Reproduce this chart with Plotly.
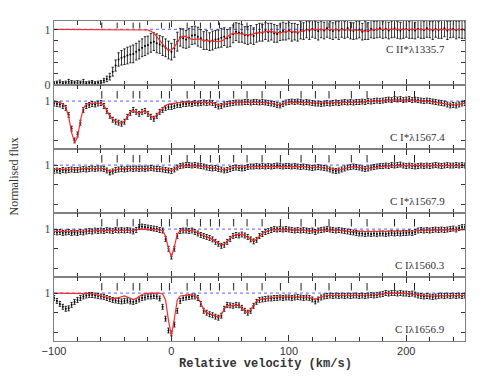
import plotly.graph_objects as go
from plotly.subplots import make_subplots

# velocity grid of the spectra (km/s), one value per 2.5 km/s pixel
v_start, v_step, n_pix = -100.0, 2.5, 141
velocity = [v_start + v_step * i for i in range(n_pix)]

line_labels = ["C II*λ1335.7", "C I*λ1567.4", "C I*λ1567.9", "C Iλ1560.3", "C Iλ1656.9"]

# velocity components marked above each spectrum
component_v = [-59.3, -46.2, -32.6, -27.0, -8.5, -1.7, 13.4, 24.7, 33.2, 40.9, 53.0,
               64.4, 77.2, 92.8, 110.4, 122.6, 134.2, 153.2, 166.6, 190.0, 207.0]

# ---- C II* 1335.7 ----
flux_c2s_1335 = [
    0.03, 0.04, 0.05, 0.03, 0.04, 0.06, 0.05, 0.04,
    0.05, 0.04, 0.06, 0.03, 0.04, 0.05, 0.03, 0.04,
    0.05, 0.08, 0.11, 0.15, 0.24, 0.35, 0.46, 0.49,
    0.51, 0.53, 0.55, 0.56, 0.60, 0.63, 0.67, 0.70,
    0.72, 0.76, 0.78, 0.75, 0.73, 0.70, 0.67, 0.63,
    0.60, 0.66, 0.78, 0.86, 0.84, 0.82, 0.85, 0.89,
    0.90, 0.87, 0.84, 0.80, 0.81, 0.78, 0.80, 0.82,
    0.83, 0.85, 0.87, 0.84, 0.86, 0.92, 0.96, 0.94,
    0.93, 0.90, 0.89, 0.91, 0.88, 0.93, 0.95, 0.94,
    0.97, 0.95, 0.96, 0.93, 0.92, 0.95, 0.97, 0.96,
    0.98, 0.95, 0.96, 0.94, 0.99, 0.97, 1.00, 0.98,
    1.01, 0.99, 0.97, 1.00, 0.98, 1.02, 0.99, 0.97,
    1.00, 0.98, 1.01, 0.99, 1.02, 0.98, 0.97, 0.99,
    1.00, 0.96, 0.98, 0.97, 1.01, 0.99, 1.00, 1.02,
    0.99, 1.01, 0.98, 1.00, 1.02, 0.99, 0.98, 1.00,
    1.01, 0.99, 1.00, 0.98, 1.01, 1.00, 0.99, 1.02,
    1.00, 0.98, 1.01, 0.99, 1.00, 1.02, 0.98, 1.00,
    1.01, 0.99, 1.00, 1.00, 0.99]
err_c2s_1335 = [
    0.03, 0.03, 0.04, 0.03, 0.03, 0.04, 0.03, 0.03,
    0.03, 0.03, 0.04, 0.03, 0.03, 0.03, 0.03, 0.03,
    0.03, 0.04, 0.05, 0.06, 0.08, 0.10, 0.12, 0.13,
    0.14, 0.15, 0.15, 0.16, 0.15, 0.16, 0.16, 0.17,
    0.16, 0.17, 0.16, 0.17, 0.16, 0.17, 0.16, 0.16,
    0.15, 0.16, 0.17, 0.16, 0.17, 0.16, 0.17, 0.16,
    0.16, 0.17, 0.16, 0.16, 0.17, 0.16, 0.17, 0.16,
    0.16, 0.17, 0.16, 0.16, 0.17, 0.16, 0.16, 0.17,
    0.16, 0.15, 0.16, 0.16, 0.15, 0.16, 0.16, 0.15,
    0.15, 0.16, 0.15, 0.16, 0.15, 0.15, 0.16, 0.15,
    0.15, 0.16, 0.15, 0.15, 0.16, 0.15, 0.15, 0.16,
    0.15, 0.15, 0.16, 0.15, 0.15, 0.16, 0.15, 0.15,
    0.15, 0.16, 0.15, 0.15, 0.16, 0.15, 0.15, 0.16,
    0.15, 0.15, 0.16, 0.15, 0.16, 0.15, 0.15, 0.16,
    0.15, 0.16, 0.15, 0.15, 0.16, 0.15, 0.15, 0.16,
    0.15, 0.15, 0.16, 0.15, 0.15, 0.16, 0.15, 0.16,
    0.15, 0.16, 0.15, 0.15, 0.16, 0.15, 0.16, 0.15,
    0.15, 0.16, 0.15, 0.16, 0.15]
model_c2s_1335 = [
    1.00, 1.00, 1.00, 1.00, 1.00, 1.00, 1.00, 1.00,
    1.00, 1.00, 1.00, 1.00, 1.00, 1.00, 1.00, 1.00,
    1.00, 1.00, 1.00, 1.00, 1.00, 1.00, 1.00, 1.00,
    1.00, 1.00, 1.00, 1.00, 1.00, 1.00, 1.00, 1.00,
    0.99, 0.97, 0.93, 0.87, 0.80, 0.73, 0.67, 0.63,
    0.63, 0.68, 0.77, 0.85, 0.88, 0.87, 0.84, 0.82,
    0.82, 0.83, 0.82, 0.80, 0.80, 0.80, 0.79, 0.78,
    0.78, 0.79, 0.82, 0.87, 0.91, 0.93, 0.93, 0.92,
    0.92, 0.91, 0.90, 0.90, 0.92, 0.94, 0.94, 0.95,
    0.96, 0.97, 0.96, 0.95, 0.94, 0.94, 0.95, 0.96,
    0.97, 0.96, 0.95, 0.95, 0.96, 0.98, 0.99, 1.00,
    1.00, 0.995, 0.99, 0.995, 1.00, 1.00, 0.995, 0.995,
    1.00, 1.00, 0.995, 0.995, 1.00, 1.00, 0.995, 0.99,
    0.985, 0.975, 0.97, 0.98, 0.99, 0.995, 1.00, 1.00,
    1.00, 0.995, 0.995, 1.00, 1.00, 0.995, 0.995, 1.00,
    1.00, 0.995, 0.995, 1.00, 0.995, 0.99, 0.995, 1.00,
    1.00, 1.00, 0.995, 0.995, 1.00, 1.00, 1.00, 0.995,
    0.995, 1.00, 1.00, 0.995, 0.995]

# ---- C I* 1567.4 ----
flux_c1s_1567a = [
    0.975, 0.97, 0.965, 0.95, 0.93, 0.86, 0.72, 0.60,
    0.66, 0.78, 0.91, 0.95, 0.96, 0.97, 0.965, 0.975,
    0.98, 0.95, 0.90, 0.85, 0.81, 0.79, 0.78, 0.77,
    0.79, 0.84, 0.88, 0.91, 0.89, 0.87, 0.89, 0.90,
    0.87, 0.84, 0.82, 0.85, 0.89, 0.91, 0.93, 0.94,
    0.94, 0.95, 0.96, 0.96, 0.97, 0.97, 0.975, 0.97,
    0.98, 0.975, 0.98, 0.985, 0.98, 0.985, 0.98, 0.96,
    0.945, 0.95, 0.965, 0.97, 0.975, 0.98, 0.985, 0.985,
    0.985, 0.99, 0.99, 0.985, 0.99, 0.99, 0.985, 0.99,
    0.985, 0.98, 0.975, 0.97, 0.96, 0.955, 0.97, 0.985,
    0.99, 0.995, 0.99, 0.995, 0.99, 0.985, 0.99, 0.985,
    0.98, 0.975, 0.975, 0.97, 0.975, 0.98, 0.975, 0.98,
    0.985, 0.98, 0.985, 0.99, 0.985, 0.99, 0.985, 0.99,
    0.99, 0.995, 0.99, 1.00, 0.995, 1.00, 1.005, 1.00,
    1.005, 1.01, 1.015, 1.01, 1.02, 1.015, 1.02, 1.01,
    1.015, 1.02, 1.01, 1.015, 1.01, 1.005, 1.00, 1.005,
    1.00, 0.995, 0.99, 0.985, 0.98, 0.975, 0.965, 0.955,
    0.96, 0.955, 0.965, 0.975, 0.98]
model_c1s_1567a = [
    0.995, 0.99, 0.985, 0.97, 0.94, 0.84, 0.68, 0.58,
    0.63, 0.80, 0.93, 0.965, 0.975, 0.975, 0.975, 0.98,
    0.98, 0.955, 0.90, 0.85, 0.815, 0.795, 0.785, 0.775,
    0.795, 0.845, 0.89, 0.905, 0.89, 0.875, 0.89, 0.90,
    0.875, 0.845, 0.83, 0.86, 0.90, 0.93, 0.955, 0.97,
    0.975, 0.98, 0.985, 0.985, 0.99, 0.99, 0.99, 0.99,
    0.99, 0.99, 0.99, 0.99, 0.99, 0.99, 0.985, 0.97,
    0.955, 0.96, 0.97, 0.975, 0.98, 0.985, 0.99, 0.99,
    0.99, 0.99, 0.99, 0.99, 0.99, 0.99, 0.99, 0.99,
    0.985, 0.98, 0.975, 0.97, 0.965, 0.96, 0.97, 0.985,
    0.99, 0.99, 0.99, 0.99, 0.99, 0.99, 0.99, 0.985,
    0.98, 0.98, 0.975, 0.975, 0.98, 0.98, 0.98, 0.985,
    0.985, 0.985, 0.99, 0.99, 0.99, 0.99, 0.99, 0.99,
    0.99, 0.99, 0.995, 1.00, 1.00, 1.00, 1.00, 1.00,
    1.005, 1.01, 1.01, 1.01, 1.015, 1.015, 1.015, 1.01,
    1.01, 1.015, 1.01, 1.01, 1.005, 1.00, 1.00, 1.00,
    0.995, 0.99, 0.99, 0.985, 0.98, 0.975, 0.965, 0.96,
    0.96, 0.96, 0.965, 0.975, 0.98]

# ---- C I* 1567.9 ----
flux_c1s_1567b = [
    0.94, 0.945, 0.94, 0.95, 0.945, 0.95, 0.955, 0.95,
    0.95, 0.955, 0.96, 0.955, 0.96, 0.965, 0.96, 0.965,
    0.965, 0.96, 0.945, 0.925, 0.935, 0.95, 0.955, 0.96,
    0.955, 0.96, 0.965, 0.96, 0.965, 0.96, 0.965, 0.96,
    0.965, 0.97, 0.965, 0.96, 0.96, 0.955, 0.95, 0.945,
    0.94, 0.955, 0.975, 0.99, 0.995, 1.00, 1.00, 0.995,
    1.00, 0.995, 0.99, 0.985, 0.975, 0.97, 0.965, 0.97,
    0.96, 0.955, 0.945, 0.95, 0.96, 0.97, 0.975, 0.97,
    0.965, 0.97, 0.98, 0.985, 0.985, 0.99, 0.985, 0.99,
    0.985, 0.99, 0.985, 0.99, 0.995, 0.99, 0.985, 0.99,
    0.99, 0.985, 0.99, 0.985, 0.98, 0.985, 0.98, 0.975,
    0.97, 0.975, 0.98, 0.975, 0.97, 0.965, 0.955, 0.945,
    0.94, 0.945, 0.955, 0.965, 0.975, 0.98, 0.985, 0.98,
    0.975, 0.965, 0.96, 0.965, 0.975, 0.98, 0.985, 0.99,
    0.99, 0.995, 0.99, 1.00, 0.995, 1.00, 1.005, 0.995,
    0.99, 0.995, 0.99, 0.985, 0.99, 0.995, 0.99, 0.995,
    0.99, 0.995, 1.00, 0.995, 0.99, 0.995, 1.00, 0.995,
    0.995, 1.00, 0.995, 1.00, 0.995]
model_c1s_1567b = [
    0.955, 0.955, 0.955, 0.955, 0.955, 0.955, 0.96, 0.96,
    0.96, 0.96, 0.965, 0.965, 0.97, 0.97, 0.97, 0.97,
    0.97, 0.965, 0.95, 0.935, 0.94, 0.955, 0.96, 0.965,
    0.965, 0.965, 0.965, 0.965, 0.965, 0.965, 0.965, 0.965,
    0.97, 0.97, 0.97, 0.965, 0.965, 0.96, 0.955, 0.95,
    0.945, 0.955, 0.975, 0.99, 0.995, 0.995, 0.995, 0.995,
    0.995, 0.99, 0.99, 0.985, 0.98, 0.975, 0.97, 0.97,
    0.965, 0.955, 0.95, 0.955, 0.965, 0.975, 0.975, 0.975,
    0.975, 0.975, 0.98, 0.985, 0.985, 0.985, 0.985, 0.985,
    0.985, 0.985, 0.985, 0.99, 0.99, 0.99, 0.99, 0.99,
    0.99, 0.99, 0.99, 0.985, 0.985, 0.985, 0.98, 0.98,
    0.975, 0.975, 0.975, 0.975, 0.97, 0.965, 0.96, 0.955,
    0.95, 0.95, 0.955, 0.965, 0.975, 0.98, 0.98, 0.98,
    0.975, 0.97, 0.965, 0.965, 0.97, 0.975, 0.98, 0.985,
    0.99, 0.99, 0.99, 0.995, 0.995, 0.995, 0.995, 0.995,
    0.99, 0.99, 0.99, 0.99, 0.99, 0.99, 0.99, 0.99,
    0.99, 0.99, 0.995, 0.995, 0.995, 0.995, 0.995, 0.995,
    0.995, 0.995, 0.995, 0.995, 0.995]

# ---- C I 1560.3 ----
flux_c1_1560 = [
    0.97, 0.965, 0.97, 0.96, 0.965, 0.97, 0.96, 0.965,
    0.96, 0.97, 0.965, 0.975, 0.98, 0.975, 0.985, 0.98,
    0.985, 0.98, 0.99, 0.985, 0.98, 0.99, 0.985, 0.99,
    0.985, 0.99, 0.985, 0.975, 0.99, 1.02, 1.025, 1.02,
    1.015, 1.01, 1.005, 1.00, 0.99, 0.985, 0.90, 0.80,
    0.72, 0.80, 0.93, 0.98, 0.985, 0.985, 0.98, 0.985,
    0.97, 0.955, 0.94, 0.93, 0.92, 0.91, 0.895, 0.87,
    0.85, 0.83, 0.84, 0.87, 0.90, 0.93, 0.94, 0.935,
    0.945, 0.935, 0.92, 0.895, 0.875, 0.89, 0.93, 0.95,
    0.97, 0.98, 0.99, 1.00, 0.995, 1.00, 0.995, 1.00,
    0.995, 0.99, 0.985, 0.99, 0.985, 0.99, 0.985, 0.98,
    0.985, 0.97, 0.985, 0.99, 0.995, 1.00, 0.995, 0.99,
    0.985, 0.99, 0.985, 0.98, 0.975, 0.97, 0.965, 0.96,
    0.955, 0.955, 0.95, 0.955, 0.95, 0.955, 0.95, 0.955,
    0.955, 0.95, 0.955, 0.96, 0.955, 0.96, 0.955, 0.96,
    0.96, 0.965, 0.96, 0.97, 0.985, 0.99, 0.985, 0.99,
    0.985, 0.99, 0.995, 0.99, 0.995, 0.99, 0.995, 1.00,
    1.005, 0.995, 1.01, 1.02, 1.02]
model_c1_1560 = [
    0.975, 0.975, 0.975, 0.975, 0.975, 0.975, 0.975, 0.975,
    0.975, 0.975, 0.975, 0.98, 0.98, 0.98, 0.985, 0.985,
    0.985, 0.985, 0.985, 0.985, 0.985, 0.985, 0.985, 0.985,
    0.985, 0.985, 0.985, 0.985, 0.99, 1.00, 1.00, 1.00,
    1.00, 1.00, 1.00, 0.995, 0.99, 0.985, 0.93, 0.80,
    0.72, 0.82, 0.95, 0.985, 0.99, 0.99, 0.99, 0.985,
    0.975, 0.96, 0.945, 0.93, 0.92, 0.91, 0.895, 0.875,
    0.855, 0.84, 0.845, 0.87, 0.905, 0.93, 0.94, 0.94,
    0.945, 0.935, 0.915, 0.895, 0.88, 0.895, 0.93, 0.955,
    0.975, 0.985, 0.99, 0.995, 0.995, 0.995, 0.995, 0.995,
    0.995, 0.99, 0.99, 0.99, 0.99, 0.99, 0.985, 0.985,
    0.985, 0.98, 0.99, 0.99, 0.995, 0.995, 0.995, 0.99,
    0.99, 0.99, 0.985, 0.985, 0.98, 0.975, 0.975, 0.975,
    0.975, 0.975, 0.975, 0.975, 0.975, 0.975, 0.975, 0.975,
    0.975, 0.975, 0.975, 0.975, 0.975, 0.975, 0.975, 0.975,
    0.975, 0.975, 0.975, 0.98, 0.985, 0.99, 0.99, 0.99,
    0.99, 0.99, 0.995, 0.995, 0.995, 0.995, 0.995, 0.995,
    0.995, 0.995, 0.995, 0.995, 0.995]

# ---- C I 1656.9 ----
flux_c1_1656 = [
    0.95, 0.92, 0.89, 0.86, 0.84, 0.845, 0.88, 0.91,
    0.93, 0.95, 0.965, 0.975, 0.98, 0.98, 0.975, 0.97,
    0.965, 0.96, 0.95, 0.94, 0.93, 0.925, 0.92, 0.915,
    0.92, 0.925, 0.915, 0.91, 0.92, 0.935, 0.95, 0.955,
    0.965, 0.965, 0.97, 0.965, 0.945, 0.86, 0.74, 0.62,
    0.59, 0.68, 0.82, 0.92, 0.95, 0.955, 0.96, 0.965,
    0.965, 0.95, 0.89, 0.82, 0.80, 0.785, 0.775, 0.76,
    0.75, 0.77, 0.84, 0.88, 0.875, 0.87, 0.88, 0.875,
    0.85, 0.82, 0.80, 0.82, 0.87, 0.91, 0.93, 0.935,
    0.94, 0.945, 0.945, 0.95, 0.95, 0.955, 0.95, 0.955,
    0.955, 0.95, 0.955, 0.96, 0.955, 0.95, 0.955, 0.95,
    0.935, 0.915, 0.935, 0.955, 0.965, 0.97, 0.975, 0.97,
    0.975, 0.97, 0.975, 0.97, 0.975, 0.97, 0.975, 0.975,
    0.97, 0.975, 0.97, 0.975, 0.98, 0.975, 0.98, 0.985,
    0.99, 1.00, 0.995, 1.00, 1.00, 0.995, 1.00, 0.995,
    0.995, 0.99, 0.995, 0.985, 0.975, 0.97, 0.965, 0.97,
    0.965, 0.96, 0.965, 0.97, 0.975, 0.97, 0.975, 0.97,
    0.975, 0.97, 0.975, 0.97, 0.975]
model_c1_1656 = [
    1.00, 1.00, 1.00, 1.00, 1.00, 1.00, 1.00, 1.00,
    1.00, 1.00, 1.00, 1.00, 1.00, 0.995, 0.985, 0.975,
    0.97, 0.965, 0.955, 0.945, 0.94, 0.945, 0.955, 0.965,
    0.97, 0.96, 0.945, 0.935, 0.945, 0.965, 0.985, 0.995,
    1.00, 1.00, 1.00, 1.00, 1.00, 0.99, 0.93, 0.72,
    0.57, 0.74, 0.93, 0.97, 0.975, 0.98, 0.98, 0.975,
    0.97, 0.95, 0.90, 0.83, 0.80, 0.79, 0.78, 0.765,
    0.755, 0.78, 0.84, 0.875, 0.875, 0.87, 0.88, 0.87,
    0.845, 0.815, 0.80, 0.83, 0.88, 0.915, 0.935, 0.94,
    0.945, 0.95, 0.955, 0.955, 0.96, 0.96, 0.96, 0.96,
    0.965, 0.965, 0.965, 0.965, 0.965, 0.965, 0.96, 0.955,
    0.945, 0.935, 0.95, 0.96, 0.97, 0.975, 0.975, 0.975,
    0.975, 0.975, 0.975, 0.975, 0.975, 0.975, 0.975, 0.975,
    0.975, 0.975, 0.975, 0.975, 0.98, 0.98, 0.985, 0.99,
    0.995, 1.00, 1.00, 1.00, 1.00, 1.00, 1.00, 1.00,
    0.995, 0.995, 0.99, 0.985, 0.98, 0.975, 0.97, 0.97,
    0.97, 0.97, 0.97, 0.975, 0.975, 0.975, 0.975, 0.975,
    0.975, 0.975, 0.975, 0.975, 0.975]

# panels 2-5 have roughly constant error bars
err_c1 = [0.025, 0.025, 0.025, 0.025]

fluxes = [flux_c2s_1335, flux_c1s_1567a, flux_c1s_1567b, flux_c1_1560, flux_c1_1656]
models = [model_c2s_1335, model_c1s_1567a, model_c1s_1567b, model_c1_1560, model_c1_1656]
for a in fluxes + models + [err_c2s_1335]:
    assert len(a) == n_pix, len(a)

fig = make_subplots(rows=5, cols=1, shared_xaxes=True, vertical_spacing=0)

for i in range(5):
    row = i + 1
    if i == 0:
        ey = dict(type="data", array=err_c2s_1335, thickness=0.8, width=1.2, color="black")
    else:
        ey = dict(type="constant", value=err_c1[i - 1], thickness=0.8, width=1.2, color="black")
    fig.add_trace(go.Scatter(x=velocity, y=fluxes[i], mode="markers",
                             marker=dict(size=2, color="black"), error_y=ey),
                  row=row, col=1)
    fig.add_trace(go.Scatter(x=velocity, y=models[i], mode="lines",
                             line=dict(color="#ff2a2a", width=1.2)),
                  row=row, col=1)

    yname = "y" if row == 1 else "y%d" % row
    # continuum
    fig.add_shape(type="line", xref="x domain", yref=yname, x0=0, x1=1, y0=1, y1=1,
                  line=dict(color="#7f7fff", width=1.2, dash="dot"), layer="below")
    # component marks
    top, bot = (0.975, 0.885) if row == 1 else (0.906, 0.789)
    for vc in component_v:
        fig.add_shape(type="line", xref="x", yref=yname + " domain", x0=vc, x1=vc,
                      y0=bot, y1=top, line=dict(color="#222222", width=1))
    # line label
    fig.add_annotation(text=line_labels[i], xref="x domain", yref=yname + " domain",
                       x=0.957, y=0.556 if row == 1 else 0.19, xanchor="right", yanchor="middle",
                       showarrow=False, font=dict(family="Liberation Serif", size=11, color="#333333"))

axis_line = dict(showline=True, linecolor="#808080", linewidth=1.2, mirror="allticks",
                 showgrid=False, zeroline=False, ticks="inside", tickcolor="#333333")

fig.update_xaxes(range=[-100, 250], tick0=0, dtick=100, ticklen=6,
                 minor=dict(dtick=20, ticklen=3.5, ticks="inside", tickcolor="#333333"),
                 tickfont=dict(family="Liberation Sans", size=11, color="#333333"),
                 **axis_line)
fig.update_yaxes(ticklen=4, tickfont=dict(family="Liberation Serif", size=12, color="#444444"),
                 **axis_line)
fig.update_yaxes(range=[0, 1.152], tickvals=[0, 0.2, 0.4, 0.6, 0.8, 1.0],
                 ticktext=["0", "", "", "", "", "1"], row=1, col=1)
for row in range(2, 6):
    fig.update_yaxes(range=[0.513, 1.163], tickvals=[0.6, 0.8, 1.0],
                     ticktext=["", "", "1"], row=row, col=1)

fig.add_annotation(text="Normalised flux", xref="paper", yref="paper", x=-0.0985, y=0.5125,
                   textangle=-90, showarrow=False, xanchor="center", yanchor="middle",
                   font=dict(family="Liberation Serif", size=12, color="#333333"))
fig.add_annotation(text="<b>Relative velocity (km/s)</b>", xref="paper", yref="paper",
                   x=0.514, y=-0.072, showarrow=False, xanchor="center", yanchor="middle",
                   font=dict(family="Liberation Mono", size=12, color="#333333"))

fig.update_layout(width=491, height=382, margin=dict(l=54, r=26, t=21, b=41),
                  paper_bgcolor="white", plot_bgcolor="white", showlegend=False)

# the page body has a default 8px margin; remove it so the figure sits at the corner
fig.write_html("out.html", config={"displayModeBar": False},
               post_script="document.body.style.margin='0px';")
